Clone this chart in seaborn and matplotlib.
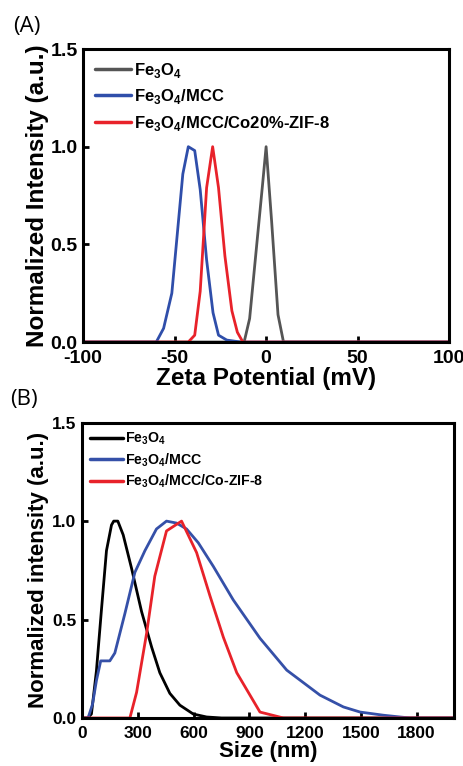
import pandas as pd
import matplotlib
matplotlib.use('Agg')
import matplotlib.pyplot as plt
import seaborn as sns

# (A) zeta potential data
zeta_fe3o4_x = [-100, -12, -9, -5, -2, 0, 3, 6.5, 9.5, 100]
zeta_fe3o4_y = [0, 0, 0.12, 0.51, 0.8, 1.0, 0.62, 0.14, 0, 0]
zeta_mcc_x = [-100, -60, -56, -51.5, -45.5, -42.5, -39, -36, -32.5, -29, -26, -21.5, -14, 100]
zeta_mcc_y = [0, 0, 0.07, 0.25, 0.86, 1.0, 0.98, 0.78, 0.42, 0.15, 0.035, 0.01, 0, 0]
zeta_zif_x = [-100, -42.5, -39, -36, -32.5, -29.2, -26, -22.5, -18.7, -15.7, -12.7, 100]
zeta_zif_y = [0, 0, 0.035, 0.26, 0.79, 1.0, 0.79, 0.44, 0.16, 0.05, 0, 0]

# (B) particle size data
size_fe3o4_x = [0, 30, 50, 77, 104, 131, 158, 170, 192, 221, 266, 320, 374, 418, 472, 526, 598, 670, 750, 2000]
size_fe3o4_y = [0, 0, 0.02, 0.24, 0.55, 0.85, 0.98, 1.0, 1.0, 0.93, 0.76, 0.54, 0.36, 0.23, 0.125, 0.065, 0.02, 0.005, 0, 0]
size_mcc_x = [0, 32, 56, 77, 100, 149, 176, 230, 284, 338, 400, 454, 508, 562, 625, 706, 813, 957, 1101, 1280, 1406, 1496, 1621, 1711, 1765, 2000]
size_mcc_y = [0, 0, 0.07, 0.19, 0.29, 0.29, 0.33, 0.53, 0.74, 0.85, 0.96, 1.0, 0.99, 0.96, 0.89, 0.77, 0.6, 0.405, 0.243, 0.116, 0.056, 0.03, 0.014, 0.005, 0, 0]
size_zif_x = [0, 257, 293, 347, 391, 454, 535, 616, 688, 760, 832, 957, 1083, 2000]
size_zif_y = [0, 0, 0.13, 0.43, 0.72, 0.95, 1.0, 0.84, 0.62, 0.41, 0.23, 0.03, 0, 0]

lab_a = ['Fe$_\\mathbf{3}$O$_\\mathbf{4}$', 'Fe$_\\mathbf{3}$O$_\\mathbf{4}$/MCC', 'Fe$_\\mathbf{3}$O$_\\mathbf{4}$/MCC/Co20%-ZIF-8']
lab_b = ['Fe$_\\mathbf{3}$O$_\\mathbf{4}$', 'Fe$_\\mathbf{3}$O$_\\mathbf{4}$/MCC', 'Fe$_\\mathbf{3}$O$_\\mathbf{4}$/MCC/Co-ZIF-8']


def make_df(xs, ys, labels):
    parts = []
    for x, y, l in zip(xs, ys, labels):
        parts.append(pd.DataFrame({'x': x, 'y': y, 'sample': l}))
    return pd.concat(parts, ignore_index=True)


df_a = make_df([zeta_fe3o4_x, zeta_mcc_x, zeta_zif_x], [zeta_fe3o4_y, zeta_mcc_y, zeta_zif_y], lab_a)
df_b = make_df([size_fe3o4_x, size_mcc_x, size_zif_x], [size_fe3o4_y, size_mcc_y, size_zif_y], lab_b)

sns.set_style('ticks')
plt.rcParams['font.family'] = ['Liberation Sans', 'DejaVu Sans']
plt.rcParams['mathtext.fontset'] = 'custom'
plt.rcParams['mathtext.bf'] = 'Liberation Sans:bold'
plt.rcParams['mathtext.rm'] = 'Liberation Sans'
plt.rcParams['axes.unicode_minus'] = False
plt.rcParams['axes.edgecolor'] = 'black'
plt.rcParams['xtick.color'] = 'black'
plt.rcParams['ytick.color'] = 'black'
plt.rcParams['text.color'] = 'black'
plt.rcParams['axes.labelcolor'] = 'black'

fig = plt.figure(figsize=(4.64, 7.66), dpi=100)
ax1 = fig.add_axes([0.179, 0.5535, 0.789, 0.3825])
ax2 = fig.add_axes([0.177, 0.0627, 0.801, 0.3855])

sns.lineplot(data=df_a, x='x', y='y', hue='sample', palette=['#555555', '#2f4eaa', '#e8222a'],
             sort=False, estimator=None, linewidth=2, ax=ax1)
sns.lineplot(data=df_b, x='x', y='y', hue='sample', palette=['#000000', '#3550a8', '#e8222a'],
             sort=False, estimator=None, linewidth=2, ax=ax2)

ax1.set_xlim(-100, 100)
ax1.set_ylim(0, 1.5)
ax1.set_xticks([-100, -50, 0, 50, 100])
ax1.set_yticks([0, 0.5, 1.0, 1.5])
ax1.set_xlabel('Zeta Potential (mV)', fontsize=17.5, fontweight='bold', labelpad=0)
ax1.set_ylabel('Normalized Intensity (a.u.)', fontsize=17.5, fontweight='bold', labelpad=1)

ax2.set_xlim(0, 2000)
ax2.set_ylim(0, 1.5)
ax2.set_xticks([0, 300, 600, 900, 1200, 1500, 1800])
ax2.set_yticks([0, 0.5, 1.0, 1.5])
ax2.set_xlabel('Size (nm)', fontsize=16, fontweight='bold', labelpad=0)
ax2.set_ylabel('Normalized intensity (a.u.)', fontsize=16, fontweight='bold', labelpad=2)

settings = [(ax1, 12, 14, 2.2, 0.45, 0.3), (ax2, 10.2, 12.5, 2.3, 0.3, 0.15)]
for ax, fs, ts, hl, ls, bp in settings:
    ax.tick_params(direction='in', length=4, width=2, labelsize=ts)
    ax.tick_params(axis='x', pad=6)
    ax.tick_params(axis='y', pad=4)
    for t in ax.get_xticklabels():
        t.set_fontweight('bold')
    for s in ax.spines.values():
        s.set_linewidth(2.2)
        s.set_visible(True)
    ax.set_yticklabels(['0.0', '0.5', '1.0', '1.5'], fontweight='bold')
    leg = ax.legend(loc='upper left', frameon=False, fontsize=fs, handlelength=hl,
                    handletextpad=0.15, labelspacing=ls, borderaxespad=bp)
    for t in leg.get_texts():
        t.set_fontweight('bold')
    for h in leg.get_lines():
        h.set_linewidth(2.5)

fig.text(0.028, 0.966, '(A)', fontsize=16, family='Open Sans', va='center')
fig.text(0.022, 0.478, '(B)', fontsize=16, family='Open Sans', va='center')

fig.savefig('out.png', dpi=100)
